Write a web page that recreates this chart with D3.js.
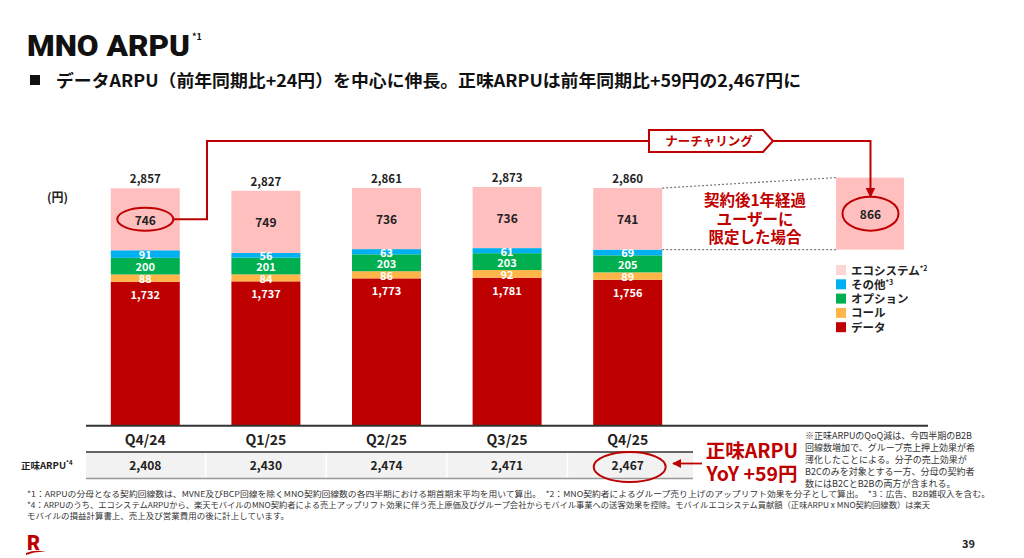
<!DOCTYPE html>
<html>
<head>
<meta charset="utf-8">
<script src="https://cdn.jsdelivr.net/npm/d3@7"></script>
<style>
  html, body { margin: 0; padding: 0; background: #fff; }
  svg { display: block; font-family: "Noto Sans CJK JP", "Noto Sans", sans-serif; }
  .seg-label { font-size: 11px; font-weight: 700; text-anchor: middle; dominant-baseline: central; }
  .total-label { font-size: 11.5px; font-weight: 700; fill: #222; text-anchor: middle; }
  .legend-label { font-size: 11.5px; font-weight: 700; fill: #222; }
  .note { font-size: 8px; fill: #333; }
</style>
</head>
<body>
<div id="chart"></div>
<script>
// chart values
var quarters = ["Q4/24", "Q1/25", "Q2/25", "Q3/25", "Q4/25"];
var dataArpu = [1732, 1737, 1773, 1781, 1756];
var callArpu = [88, 84, 86, 92, 89];
var optionArpu = [200, 201, 203, 203, 205];
var otherArpu = [91, 56, 63, 61, 69];
var ecoArpu = [746, 749, 736, 736, 741];
var totals = [2857, 2827, 2861, 2873, 2860];
var netArpu = [2408, 2430, 2474, 2471, 2467];
var ecoAfterOneYear = 866; // ecosystem ARPU for users one year after contract

var seriesKeys = ["data", "call", "option", "other", "eco"];
var seriesNames = { eco: "エコシステム", other: "その他", option: "オプション", call: "コール", data: "データ" };
var seriesSup = { eco: "*2", other: "*3" };
var colors = { data: "#BF0000", call: "#FFB547", option: "#00B050", other: "#00B0F0", eco: "#FFBFBF" };
var RED = "#BF0000";

var W = 1024, H = 558;
var svg = d3.select("#chart").append("svg")
  .attr("width", W).attr("height", H);

// rows for the stack
var rows = quarters.map(function (q, i) {
  return { q: q, data: dataArpu[i], call: callArpu[i], option: optionArpu[i], other: otherArpu[i], eco: ecoArpu[i] };
});
var stacked = d3.stack().keys(seriesKeys)(rows);

// scales
var x = d3.scaleBand().domain(quarters).range([85, 688]).paddingInner(0.428).paddingOuter(0.214);
var y = d3.scaleLinear().domain([0, 3000]).range([425.7, 425.7 - 3000 * 0.0831]);
var step = x.step();

// title
svg.append("text").attr("x", 27).attr("y", 56)
  .style("font-family", "Roboto, 'Noto Sans', sans-serif")
  .style("font-size", "30px").style("font-weight", 900).attr("fill", "#111")
  .attr("textLength", 163).attr("lengthAdjust", "spacingAndGlyphs")
  .text("MNO ARPU");
svg.append("text").attr("x", 192).attr("y", 40)
  .style("font-size", "9px").style("font-weight", 700).attr("fill", "#111").text("*1");

// subtitle
svg.append("rect").attr("x", 30).attr("y", 75).attr("width", 10).attr("height", 10).attr("fill", "#111");
svg.append("text").attr("x", 56).attr("y", 87)
  .style("font-size", "17px").style("font-weight", 700).attr("fill", "#111")
  .attr("textLength", 745).attr("lengthAdjust", "spacingAndGlyphs")
  .text("データARPU（前年同期比+24円）を中心に伸長。正味ARPUは前年同期比+59円の2,467円に");

// unit
svg.append("text").attr("x", 47).attr("y", 202)
  .style("font-size", "12px").style("font-weight", 700).attr("fill", "#222").text("(円)");

// bars
var layers = svg.append("g").selectAll("g.layer").data(stacked).enter()
  .append("g").attr("class", "layer").attr("fill", function (d) { return colors[d.key]; });
layers.selectAll("rect").data(function (d) { return d; }).enter().append("rect")
  .attr("x", function (d) { return x(d.data.q); })
  .attr("width", x.bandwidth())
  .attr("y", function (d) { return y(d[1]); })
  .attr("height", function (d) { return y(d[0]) - y(d[1]); });

// segment labels
stacked.forEach(function (layer) {
  svg.append("g").selectAll("text").data(layer).enter().append("text")
    .attr("class", "seg-label")
    .attr("x", function (d) { return x(d.data.q) + x.bandwidth() / 2; })
    .attr("y", function (d) {
      return layer.key === "data" ? y(d[1]) + 12 : (y(d[0]) + y(d[1])) / 2;
    })
    .attr("fill", layer.key === "eco" ? "#222" : "#fff")
    .style("font-size", layer.key === "eco" ? "12px" : "11px")
    .text(function (d) { return d3.format(",")(d.data[layer.key]); });
});

// totals
svg.append("g").selectAll("text").data(quarters).enter().append("text")
  .attr("class", "total-label")
  .attr("x", function (q) { return x(q) + x.bandwidth() / 2; })
  .attr("y", function (q, i) { return y(totals[i]) - 5; })
  .text(function (q, i) { return d3.format(",")(totals[i]); });

// floating ecosystem bar (users after 1 year)
var lastI = quarters.length - 1;
var baseLast = dataArpu[lastI] + callArpu[lastI] + optionArpu[lastI] + otherArpu[lastI];
var bw = x.bandwidth();
var fx = 836;
svg.append("rect").attr("x", fx).attr("width", bw - 1)
  .attr("y", y(baseLast + ecoAfterOneYear))
  .attr("height", y(baseLast) - y(baseLast + ecoAfterOneYear))
  .attr("fill", colors.eco);
var fcx = fx + bw / 2, fcy = (y(baseLast) + y(baseLast + ecoAfterOneYear)) / 2;
svg.append("text").attr("class", "seg-label").attr("x", fcx).attr("y", fcy)
  .attr("fill", "#222").style("font-size", "12px").text(ecoAfterOneYear);
svg.append("ellipse").attr("cx", fcx).attr("cy", fcy).attr("rx", 28).attr("ry", 17)
  .attr("fill", "none").attr("stroke", RED).attr("stroke-width", 2);

// dotted connectors
var lastRight = x(quarters[lastI]) + bw;
svg.append("line").attr("x1", lastRight).attr("y1", y(totals[lastI]))
  .attr("x2", fx).attr("y2", y(baseLast + ecoAfterOneYear))
  .attr("stroke", "#777").attr("stroke-width", 1.2).attr("stroke-dasharray", "2,2");
svg.append("line").attr("x1", lastRight).attr("y1", y(baseLast))
  .attr("x2", fx).attr("y2", y(baseLast))
  .attr("stroke", "#777").attr("stroke-width", 1.2).attr("stroke-dasharray", "2,2");

// explanation text
["契約後1年経過", "ユーザーに", "限定した場合"].forEach(function (t, i) {
  svg.append("text").attr("x", 755).attr("y", 206 + i * 18.5)
    .attr("text-anchor", "middle").style("font-size", "15.5px").style("font-weight", 700)
    .attr("fill", RED).text(t);
});

// first quarter ecosystem ellipse and nurturing connector
var firstCx = x(quarters[0]) + bw / 2;
var firstCy = (y(totals[0]) + y(totals[0] - ecoArpu[0])) / 2;
svg.append("ellipse").attr("cx", firstCx).attr("cy", firstCy).attr("rx", 28).attr("ry", 11.5)
  .attr("fill", "none").attr("stroke", RED).attr("stroke-width", 2);

svg.append("defs").append("marker").attr("id", "arrow")
  .attr("viewBox", "0 0 10 10").attr("refX", 9).attr("refY", 5)
  .attr("markerWidth", 5).attr("markerHeight", 5).attr("orient", "auto")
  .append("path").attr("d", "M0,0 L10,5 L0,10 z").attr("fill", RED);

var lineY = 141;
svg.append("path")
  .attr("d", "M" + (firstCx + 28) + "," + firstCy + " H207 V" + lineY + " H649")
  .attr("fill", "none").attr("stroke", RED).attr("stroke-width", 2);
svg.append("path")
  .attr("d", "M773," + lineY + " H" + fcx + " V" + (fcy - 17))
  .attr("fill", "none").attr("stroke", RED).attr("stroke-width", 2)
  .attr("marker-end", "url(#arrow)");
svg.append("path")
  .attr("d", "M649,130 H763 L773,141 L763,152 H649 Z")
  .attr("fill", "#fff").attr("stroke", RED).attr("stroke-width", 2);
svg.append("text").attr("x", 709).attr("y", 146).attr("text-anchor", "middle")
  .style("font-size", "12.5px").style("font-weight", 700).attr("fill", RED).text("ナーチャリング");

// legend
var legendKeys = seriesKeys.slice().reverse();
var legendG = svg.append("g").attr("transform", "translate(836,265)");
legendKeys.forEach(function (k, i) {
  var g = legendG.append("g").attr("transform", "translate(0," + (i * 14.3) + ")");
  g.append("rect").attr("width", 10).attr("height", 10)
    .attr("fill", k === "eco" ? "#FFD6D6" : colors[k]);
  var t = g.append("text").attr("class", "legend-label").attr("x", 15).attr("y", 9.5).text(seriesNames[k]);
  if (seriesSup[k]) {
    t.append("tspan").attr("dy", -4).style("font-size", "7px").text(seriesSup[k]);
  }
});

// table below the bars
var tableLeft = 86, tableRight = 693;
svg.append("rect").attr("x", tableLeft).attr("y", 452).attr("width", tableRight - tableLeft).attr("height", 26)
  .attr("fill", "#F2F2F2");
svg.append("g").selectAll("line").data(quarters.slice(1)).enter().append("line")
  .attr("x1", function (q) { return x(q) + bw / 2 - step / 2; })
  .attr("x2", function (q) { return x(q) + bw / 2 - step / 2; })
  .attr("y1", 452).attr("y2", 478).attr("stroke", "#fff").attr("stroke-width", 1.5);
svg.append("line").attr("x1", tableLeft).attr("x2", 928).attr("y1", 425.7).attr("y2", 425.7)
  .attr("stroke", "#333").attr("stroke-width", 2);
svg.append("line").attr("x1", tableLeft).attr("x2", tableRight).attr("y1", 452).attr("y2", 452)
  .attr("stroke", "#333").attr("stroke-width", 1.3);
svg.append("line").attr("x1", tableLeft).attr("x2", tableRight).attr("y1", 478.5).attr("y2", 478.5)
  .attr("stroke", "#999").attr("stroke-width", 1.3);

svg.append("g").selectAll("text").data(quarters).enter().append("text")
  .attr("x", function (q) { return x(q) + bw / 2; }).attr("y", 445)
  .attr("text-anchor", "middle").style("font-size", "14px").style("font-weight", 700).attr("fill", "#222")
  .text(function (q) { return q; });
svg.append("g").selectAll("text").data(quarters).enter().append("text")
  .attr("x", function (q) { return x(q) + bw / 2; }).attr("y", 470)
  .attr("text-anchor", "middle").style("font-size", "12px").style("font-weight", 700).attr("fill", "#222")
  .text(function (q, i) { return d3.format(",")(netArpu[i]); });

var rowLabel = svg.append("text").attr("x", 21).attr("y", 469)
  .style("font-size", "9.5px").style("font-weight", 700).attr("fill", "#222").text("正味ARPU");
rowLabel.append("tspan").attr("dy", -4).style("font-size", "6px").text("*4");

// highlight on latest net ARPU
var lastCx = x(quarters[lastI]) + bw / 2;
svg.append("ellipse").attr("cx", lastCx + 2).attr("cy", 467).attr("rx", 36).attr("ry", 15)
  .attr("fill", "none").attr("stroke", RED).attr("stroke-width", 2);
svg.append("line").attr("x1", 702).attr("x2", 673).attr("y1", 463.5).attr("y2", 463.5)
  .attr("stroke", RED).attr("stroke-width", 1.8).attr("marker-end", "url(#arrow)");
svg.append("text").attr("x", 752).attr("y", 458).attr("text-anchor", "middle")
  .style("font-size", "19.5px").style("font-weight", 700).attr("fill", RED).text("正味ARPU");
svg.append("text").attr("x", 752).attr("y", 481).attr("text-anchor", "middle")
  .style("font-size", "19.5px").style("font-weight", 700).attr("fill", RED).text("YoY +59円");

// side note
["※正味ARPUのQoQ減は、今四半期のB2B",
 "回線数増加で、グループ売上押上効果が希",
 "薄化したことによる。分子の売上効果が",
 "B2Cのみを対象とする一方、分母の契約者",
 "数にはB2CとB2Bの両方が含まれる。"].forEach(function (t, i) {
  svg.append("text").attr("class", "note").attr("x", 805).attr("y", 438.5 + i * 12.2)
    .style("font-size", "9px").text(t);
});

// footnotes
var foot = [
  { t: "*1：ARPUの分母となる契約回線数は、MVNE及びBCP回線を除くMNO契約回線数の各四半期における期首期末平均を用いて算出。　*2：MNO契約者によるグループ売り上げのアップリフト効果を分子として算出。　*3：広告、B2B雑収入を含む。", w: 963 },
  { t: "*4：ARPUのうち、エコシステムARPUから、楽天モバイルのMNO契約者による売上アップリフト効果に伴う売上原価及びグループ会社からモバイル事業への送客効果を控除。モバイルエコシステム貢献額（正味ARPU x MNO契約回線数）は楽天", w: 903 },
  { t: "モバイルの損益計算書上、売上及び営業費用の後に計上しています。", w: 262 }
];
foot.forEach(function (f, i) {
  svg.append("text").attr("class", "note").attr("x", 27).attr("y", 497 + i * 11)
    .attr("textLength", f.w).attr("lengthAdjust", "spacingAndGlyphs").text(f.t);
});

// logo and page number
svg.append("text").attr("x", 27).attr("y", 550)
  .style("font-family", "Roboto, sans-serif").style("font-size", "20px").style("font-weight", 900)
  .attr("fill", RED).text("R");
svg.append("path").attr("d", "M26,553 Q36,549 46,552 Q36,551 26,555 Z").attr("fill", RED);
svg.append("text").attr("x", 975).attr("y", 548).attr("text-anchor", "end")
  .style("font-size", "11px").style("font-weight", 700).attr("fill", "#222").text("39");
</script>
</body>
</html>
